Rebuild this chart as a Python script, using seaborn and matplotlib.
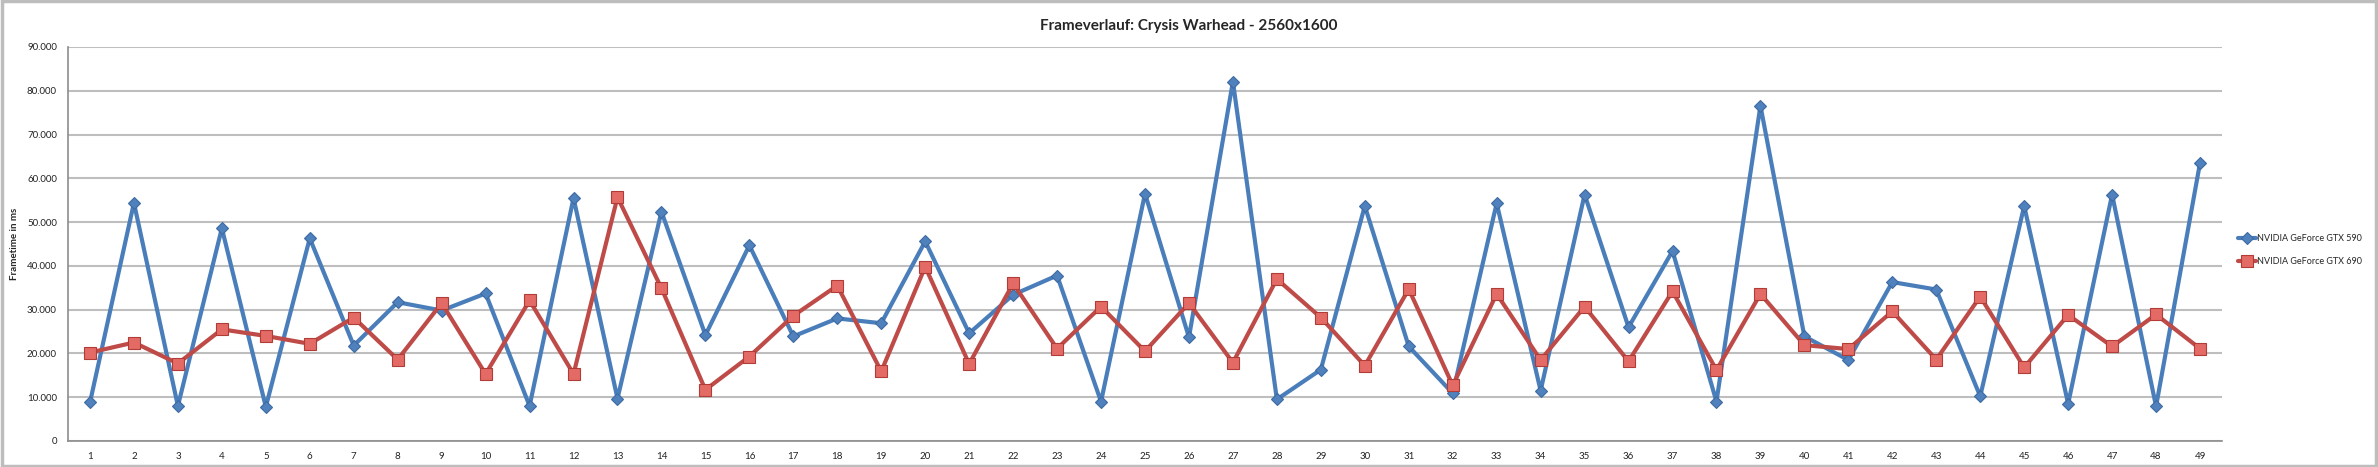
import numpy as np
import pandas as pd
import matplotlib
matplotlib.use("Agg")
import matplotlib.pyplot as plt
from matplotlib.patches import Rectangle
from matplotlib.ticker import FuncFormatter
import seaborn as sns

# frame numbers
frames = list(range(1, 50))

# frametimes (ms)
gtx590 = [8.8, 54.4, 8.0, 48.6, 7.8, 46.3, 21.8, 31.7, 29.8, 33.7,
          8.0, 55.5, 9.7, 52.4, 24.2, 44.7, 23.9, 28.0, 26.9, 45.6,
          24.6, 33.4, 37.8, 9.0, 56.5, 23.7, 82.1, 9.5, 16.3, 53.7,
          21.6, 10.9, 54.3, 11.5, 56.3, 26.0, 43.4, 9.0, 76.6, 23.9,
          18.5, 36.3, 34.6, 10.2, 53.7, 8.5, 56.3, 7.9, 63.5]
gtx690 = [20.2, 22.5, 17.7, 25.5, 24.0, 22.2, 28.2, 18.6, 31.5, 15.3,
          32.1, 15.3, 55.7, 34.9, 11.7, 19.3, 28.6, 35.5, 15.9, 39.8,
          17.6, 36.0, 21.1, 30.7, 20.5, 31.5, 17.9, 37.0, 28.2, 17.2,
          34.7, 12.7, 33.6, 18.5, 30.7, 18.2, 34.2, 16.2, 33.6, 21.9,
          21.0, 29.6, 18.6, 33.0, 16.8, 28.8, 21.6, 28.9, 21.1]

series_names = ["NVIDIA GeForce GTX 590", "NVIDIA GeForce GTX 690"]
y_ticks = list(range(0, 100, 10))

df = pd.DataFrame({"frame": frames, series_names[0]: gtx590, series_names[1]: gtx690})

sns.set_style("white")
plt.rcParams["font.family"] = ["Lato", "DejaVu Sans"]

fig = plt.figure(figsize=(23.78, 4.67), dpi=100)
ax = fig.add_axes([68 / 2378, 1 - 441 / 467, (2222 - 68) / 2378, (441 - 47) / 467])

sns.lineplot(data=df, x="frame", y=series_names[0], ax=ax, color="#4A7EBB", lw=3,
             marker="D", markersize=6, markerfacecolor="#4F81BD",
             markeredgecolor="#3E6AA3", markeredgewidth=0.8, label=series_names[0])
sns.lineplot(data=df, x="frame", y=series_names[1], ax=ax, color="#BE4B48", lw=3,
             marker="s", markersize=8, markerfacecolor="#E46A66",
             markeredgecolor="#B03C38", markeredgewidth=0.8, label=series_names[1])

ax.set_xlim(0.5, 49.5)
ax.set_ylim(0, 90)
ax.set_xticks(frames)
ax.set_yticks(y_ticks)
ax.yaxis.set_major_formatter(FuncFormatter(lambda v, p: "0" if v == 0 else f"{int(v)}.000"))
ax.tick_params(axis="both", length=0, labelsize=7, colors="#222222", pad=8)
ax.grid(axis="y", color="#BEBEBE", lw=1.5)
ax.set_axisbelow(True)
for side in ["top", "right"]:
    ax.spines[side].set_visible(False)
for side in ["left", "bottom"]:
    ax.spines[side].set_color("#8C8C8C")
    ax.spines[side].set_linewidth(1.2)

ax.set_xlabel("")
ax.set_ylabel("Frametime in ms", fontsize=7, fontweight="bold", labelpad=6)

ax.legend_.remove()
handles, labels = ax.get_legend_handles_labels()
fig.legend(handles, labels, loc="center left", bbox_to_anchor=(2238 / 2378, 1 - 250 / 467),
           frameon=False, fontsize=6.5, handlelength=2.0, labelspacing=1.6,
           handletextpad=0.1, borderpad=0, borderaxespad=0)

fig.text(0.5, 1 - 26 / 467, "Frameverlauf: Crysis Warhead - 2560x1600",
         ha="center", va="center", fontsize=11, fontweight="bold")

# outer chart frame
fig.patches.append(Rectangle((0.001, 0.003), 0.998, 0.994, transform=fig.transFigure,
                             fill=False, edgecolor="#BDBDBD", lw=2.5))

fig.savefig("out.png", dpi=100)
